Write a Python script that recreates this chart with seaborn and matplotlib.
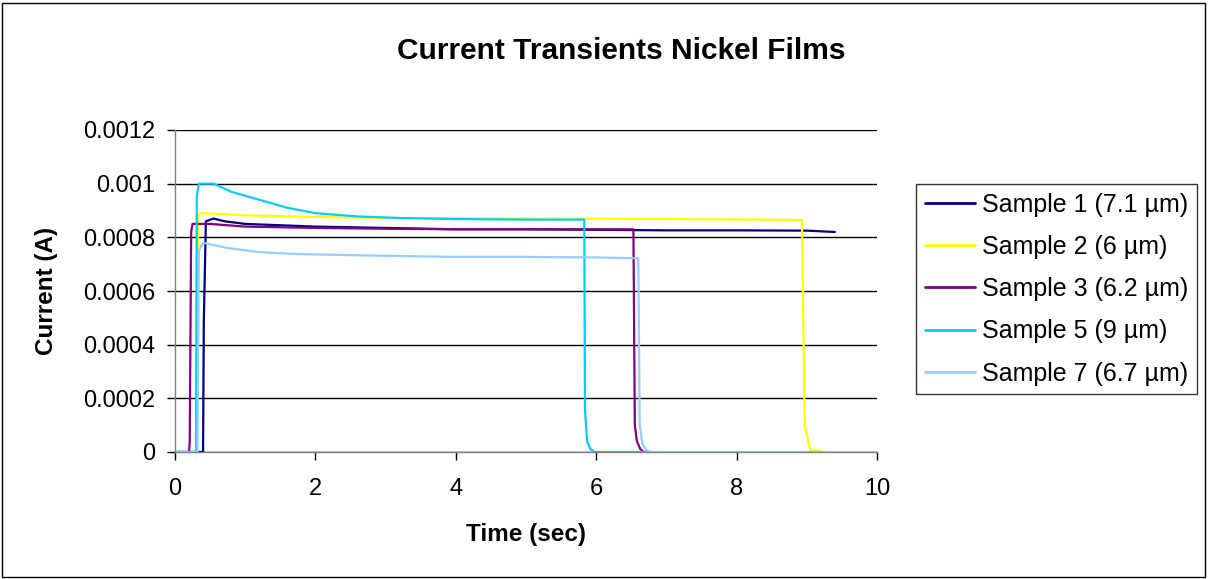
import matplotlib
matplotlib.use("Agg")
import matplotlib.pyplot as plt
import matplotlib.ticker as mticker
from matplotlib.patches import Rectangle
import seaborn as sns
import pandas as pd

# ---- data ----
labels = ["Sample 1 (7.1 µm)", "Sample 2 (6 µm)", "Sample 3 (6.2 µm)",
          "Sample 5 (9 µm)", "Sample 7 (6.7 µm)"]
colors = ["#000080", "#FFFF00", "#800080", "#00CCFF", "#99CCFF"]

s1_t = [0, 0.38, 0.40, 0.41, 0.44, 0.55, 0.7, 1.0, 1.5, 2.0, 3.0, 4.0, 5.0, 6.0, 7.0, 8.0, 9.0, 9.4]
s1_i = [0, 0, 0, 0.00048, 0.00086, 0.00087, 0.00086, 0.00085, 0.000845, 0.00084, 0.000835,
        0.00083, 0.00083, 0.000828, 0.000826, 0.000826, 0.000825, 0.00082]

s2_t = [0, 0.31, 0.33, 0.36, 0.6, 1.0, 2.0, 3.0, 5.0, 7.0, 8.9, 8.93, 8.97, 9.05, 9.2]
s2_i = [0, 0, 0.00088, 0.00089, 0.000888, 0.000882, 0.000876, 0.000872, 0.00087, 0.000868,
        0.000865, 0.000865, 0.0001, 0.000006, 0.000005]

s3_t = [0, 0.20, 0.21, 0.23, 0.25, 0.5, 1.0, 2.0, 3.0, 4.0, 5.0, 6.0, 6.53, 6.55, 6.58, 6.63, 6.68, 6.75]
s3_i = [0, 0, 0.00004, 0.00082, 0.00085, 0.00085, 0.00084, 0.000835, 0.000832, 0.00083,
        0.00083, 0.00083, 0.00083, 0.0001, 0.00004, 0.00001, 0, 0]

s5_t = [0, 0.30, 0.31, 0.34, 0.55, 0.8, 1.2, 1.6, 2.0, 2.6, 3.2, 4.0, 5.0, 5.83, 5.84, 5.87, 5.92, 5.98, 6.7]
s5_i = [0, 0, 0.00095, 0.001, 0.001, 0.00097, 0.00094, 0.00091, 0.00089, 0.000878, 0.000872,
        0.000868, 0.000866, 0.000866, 0.00016, 0.00004, 0.00001, 0, 0]

s7_t = [0, 0.32, 0.34, 0.40, 0.75, 1.2, 1.7, 2.6, 4.0, 5.0, 6.0, 6.6, 6.62, 6.66, 6.72, 6.8, 9.37]
s7_i = [0, 0, 0.00075, 0.00078, 0.00076, 0.000745, 0.000738, 0.000733, 0.000727, 0.000727,
        0.000725, 0.000722, 0.0001, 0.00003, 0.000005, 0, 0]

series_t = [s1_t, s2_t, s3_t, s5_t, s7_t]
series_i = [s1_i, s2_i, s3_i, s5_i, s7_i]

x_ticks = [0, 2, 4, 6, 8, 10]
y_ticks = [0, 0.0002, 0.0004, 0.0006, 0.0008, 0.001, 0.0012]

rows = []
for lab, ts, cs in zip(labels, series_t, series_i):
    for t, c in zip(ts, cs):
        rows.append({"Sample": lab, "Time": t, "Current": c})
df = pd.DataFrame(rows)

# ---- plot ----
sns.set_theme(style="white")
plt.rcParams["font.family"] = ["Liberation Sans", "DejaVu Sans"]
plt.rcParams["text.color"] = "black"
plt.rcParams["axes.labelcolor"] = "black"
plt.rcParams["xtick.color"] = "black"
plt.rcParams["ytick.color"] = "black"

W, H = 1208, 579
fig = plt.figure(figsize=(W / 100, H / 100), dpi=100)
ax = fig.add_axes([175 / W, 1 - 452 / H, (877 - 175) / W, (452 - 130) / H])

sns.lineplot(data=df, x="Time", y="Current", hue="Sample", hue_order=labels,
             palette=dict(zip(labels, colors)), estimator=None, sort=False,
             linewidth=1.6, ax=ax, legend=True)

ax.set_xlim(0, 10)
ax.set_ylim(0, 0.0012)
ax.set_xticks(x_ticks)
ax.set_yticks(y_ticks)
ax.yaxis.set_major_formatter(mticker.FuncFormatter(lambda v, p: "%g" % round(v, 6)))
ax.xaxis.set_major_formatter(mticker.FuncFormatter(lambda v, p: "%g" % v))
ax.grid(axis="y", color="black", linewidth=1)
ax.set_axisbelow(True)
for side in ["top", "right"]:
    ax.spines[side].set_visible(False)
for side in ["left", "bottom"]:
    ax.spines[side].set_color("#808080")
    ax.spines[side].set_linewidth(1)
ax.tick_params(axis="both", which="major", direction="out", length=6, width=1,
               color="black", labelsize=17, left=True, bottom=True)
ax.tick_params(axis="y", pad=8)
ax.tick_params(axis="x", pad=13)

ax.set_xlabel("Time (sec)", fontsize=17.5, fontweight="bold", va="center")
ax.set_ylabel("Current (A)", fontsize=17.5, fontweight="bold", va="center")
ax.xaxis.set_label_coords(0.5, (452 - 535) / 322)
ax.yaxis.set_label_coords((47 - 175) / 702, 0.5)

fig.text(621 / W, 1 - 51 / H, "Current Transients Nickel Films",
         ha="center", va="center", fontsize=21.5, fontweight="bold")

leg = ax.legend(loc="center left", bbox_to_anchor=(916 / W, 1 - 289 / H),
                bbox_transform=fig.transFigure, frameon=True, fancybox=False,
                fontsize=18, handlelength=2.0, handletextpad=0.28, labelspacing=0.73,
                borderpad=0.35, borderaxespad=0)
leg.get_frame().set_edgecolor("black")
leg.get_frame().set_linewidth(1)
for h in leg.get_lines():
    h.set_linewidth(2)

fig.patches.append(Rectangle((2 / W, 2 / H), 1203 / W, 574 / H,
                             transform=fig.transFigure, fill=False,
                             edgecolor="black", linewidth=1))

fig.savefig("out.png", dpi=100)
